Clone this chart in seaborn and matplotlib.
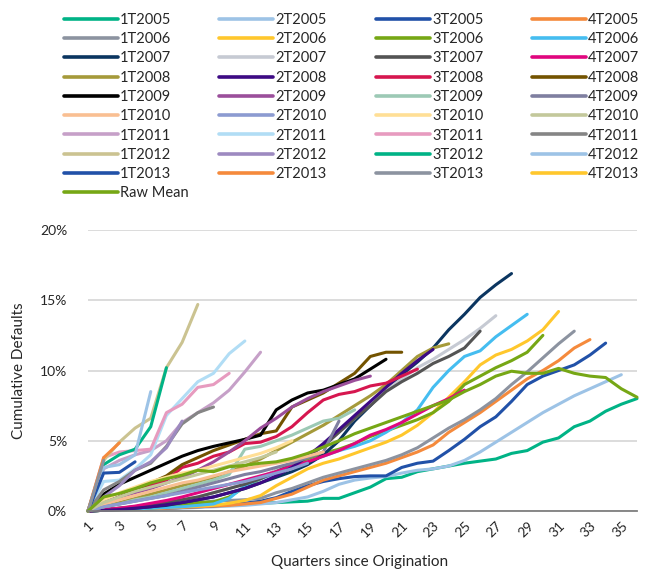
import matplotlib
matplotlib.use("Agg")
import matplotlib.pyplot as plt
import seaborn as sns
import pandas as pd
from matplotlib.ticker import FuncFormatter

# ---- data (cumulative defaults, % of original balance) ----
s_1T2005 = [0, 0.05, 0.1, 0.15, 0.2, 0.25, 0.3, 0.35, 0.4, 0.45, 0.5, 0.55, 0.6, 0.65, 0.7, 0.9, 0.9, 1.3,
            1.7, 2.3, 2.4, 2.8, 3.0, 3.2, 3.4, 3.55, 3.7, 4.1, 4.3, 4.9, 5.2, 6.0, 6.4, 7.1, 7.6, 8.0]
s_2T2005 = [0, 0.05, 0.05, 0.1, 0.1, 0.15, 0.2, 0.25, 0.3, 0.35, 0.4, 0.5, 0.6, 0.8, 1.0, 1.4, 1.9, 2.2,
            2.35, 2.45, 2.7, 2.9, 3.0, 3.2, 3.6, 4.2, 4.9, 5.6, 6.3, 7.0, 7.6, 8.2, 8.7, 9.2, 9.7]
s_3T2005 = [0, 0.05, 0.1, 0.15, 0.15, 0.2, 0.25, 0.3, 0.35, 0.45, 0.55, 0.7, 0.95, 1.4, 1.8, 2.1, 2.3, 2.45,
            2.5, 2.5, 3.1, 3.4, 3.55, 4.3, 5.1, 6.0, 6.7, 7.8, 9.0, 9.6, 10.0, 10.4, 11.1, 11.95]
s_4T2005 = [0, 0.05, 0.1, 0.1, 0.15, 0.2, 0.25, 0.3, 0.35, 0.4, 0.5, 0.6, 0.9, 1.2, 1.7, 2.2, 2.5, 2.8,
            3.1, 3.4, 3.8, 4.2, 4.7, 5.6, 6.3, 7.0, 7.8, 8.6, 9.4, 10.0, 10.7, 11.6, 12.2]
s_1T2006 = [0, 0.1, 0.2, 0.3, 0.35, 0.4, 0.5, 0.6, 0.7, 0.75, 0.8, 0.9, 1.3, 1.6, 2.0, 2.4, 2.7, 3.0,
            3.3, 3.6, 4.0, 4.5, 5.2, 5.9, 6.5, 7.2, 8.0, 9.0, 9.9, 10.9, 11.9, 12.8]
s_2T2006 = [0, 0.05, 0.1, 0.15, 0.2, 0.25, 0.3, 0.35, 0.4, 0.55, 0.75, 1.1, 1.8, 2.4, 3.0, 3.4, 3.7, 4.1,
            4.5, 4.9, 5.4, 6.1, 7.0, 8.1, 9.2, 10.4, 11.1, 11.5, 12.1, 12.9, 14.2]
s_3T2006 = [0, 0.05, 0.1, 0.15, 0.2, 0.3, 0.4, 0.6, 0.65, 1.0, 1.7, 2.3, 2.9, 3.3, 3.7, 4.1, 4.4, 4.8,
            5.3, 5.7, 6.1, 6.5, 7.0, 7.8, 9.0, 9.6, 10.2, 10.7, 11.3, 12.5]
s_4T2006 = [0, 0.05, 0.1, 0.15, 0.2, 0.25, 0.3, 0.4, 0.5, 0.9, 1.8, 2.3, 2.7, 3.1, 3.5, 3.9, 4.3, 4.6,
            5.0, 5.6, 6.3, 7.2, 8.8, 10.0, 11.0, 11.4, 12.4, 13.2, 14.0]
s_1T2007 = [0, 0.05, 0.1, 0.2, 0.3, 0.4, 0.6, 0.8, 1.0, 1.3, 1.6, 2.0, 2.4, 2.8, 3.3, 4.0, 5.0, 6.4,
            7.5, 8.7, 9.7, 10.6, 11.6, 12.9, 14.0, 15.2, 16.1, 16.9]
s_2T2007 = [0, 0.1, 0.2, 0.3, 0.45, 0.6, 0.8, 1.0, 1.3, 1.6, 2.0, 2.4, 2.9, 3.4, 4.0, 4.7, 5.6, 6.6,
            7.6, 8.6, 9.4, 10.2, 10.8, 11.5, 12.2, 13.0, 13.9]
s_3T2007 = [0, 0.1, 0.2, 0.3, 0.45, 0.6, 0.8, 1.0, 1.3, 1.6, 1.9, 2.3, 2.8, 3.3, 3.9, 4.6, 5.6, 6.6,
            7.5, 8.5, 9.2, 9.8, 10.5, 11.0, 11.6, 12.8]
s_4T2007 = [0, 0.1, 0.2, 0.35, 0.55, 0.75, 1.0, 1.3, 1.6, 1.9, 2.2, 2.5, 2.8, 3.2, 3.5, 3.9, 4.3, 4.8,
            5.4, 5.8, 6.3, 6.9, 7.5, 8.0, 8.6]
s_1T2008 = [0, 0.3, 0.6, 0.9, 1.2, 1.5, 1.8, 2.1, 2.4, 2.8, 3.2, 3.7, 4.3, 4.9, 5.5, 6.1, 6.8, 7.5,
            8.2, 9.0, 10.0, 11.0, 11.6, 11.9]
s_2T2008 = [0, 0.05, 0.1, 0.2, 0.3, 0.45, 0.6, 0.8, 1.0, 1.3, 1.6, 2.0, 2.5, 3.1, 3.9, 4.8, 5.8, 6.8,
            7.8, 8.8, 9.8, 10.7, 11.5]
s_3T2008 = [0, 0.5, 1.0, 1.4, 1.8, 2.2, 3.1, 3.4, 3.9, 4.2, 4.8, 4.9, 5.3, 6.0, 7.0, 7.9, 8.3, 8.5,
            8.9, 9.1, 9.6, 10.1]
s_4T2008 = [0, 0.6, 1.0, 1.5, 2.0, 2.5, 3.3, 3.8, 4.3, 4.7, 5.1, 5.5, 5.7, 7.4, 7.9, 8.4, 9.1, 9.8,
            11.0, 11.3, 11.3]
s_1T2009 = [0, 1.2, 1.9, 2.4, 2.9, 3.4, 3.9, 4.3, 4.6, 4.85, 5.1, 5.4, 7.2, 7.9, 8.4, 8.6, 9.0, 9.4,
            10.1, 10.8]
s_2T2009 = [0, 0.6, 1.0, 1.3, 1.6, 2.0, 2.4, 2.9, 3.5, 4.2, 5.0, 5.9, 6.6, 7.4, 8.0, 8.5, 8.9, 9.3, 9.6]
s_3T2009 = [0, 0.3, 0.5, 0.8, 1.0, 1.3, 1.6, 1.9, 2.2, 2.6, 4.4, 4.6, 5.0, 5.4, 5.9, 6.4, 6.6, 7.2]
s_4T2009 = [0, 0.3, 0.5, 0.7, 0.9, 1.1, 1.4, 1.7, 2.0, 2.3, 2.6, 2.8, 3.1, 3.4, 3.8, 4.2, 6.4]
s_1T2010 = [0, 0.5, 0.8, 1.1, 1.4, 1.7, 2.0, 2.2, 2.5, 2.8, 3.0, 3.2, 3.4, 3.6, 3.9, 4.2]
s_2T2010 = [0, 0.3, 0.5, 0.7, 0.9, 1.1, 1.3, 1.5, 1.7, 1.9, 2.1, 2.4, 2.7, 3.0, 3.4]
s_3T2010 = [0, 0.8, 1.3, 1.7, 2.1, 2.4, 2.7, 2.9, 3.2, 3.5, 3.8, 4.1, 4.5, 5.0]
s_4T2010 = [0, 0.6, 1.0, 1.4, 1.7, 2.0, 2.3, 2.6, 2.9, 3.2, 3.5, 3.8, 4.2]
s_1T2011 = [0, 3.0, 3.6, 4.0, 4.3, 5.0, 6.3, 7.0, 7.7, 8.6, 9.9, 11.3]
s_2T2011 = [0, 2.1, 2.2, 3.0, 4.0, 6.8, 8.0, 9.2, 9.8, 11.2, 12.1]
s_3T2011 = [0, 3.8, 4.2, 4.3, 4.4, 7.0, 7.6, 8.8, 9.0, 9.8]
s_4T2011 = [0, 1.5, 2.1, 2.9, 3.4, 4.6, 6.2, 7.0, 7.4]
s_1T2012 = [0, 3.6, 4.9, 5.9, 6.6, 10.2, 12.0, 14.7]
s_2T2012 = [0, 1.0, 1.8, 2.9, 3.5, 4.5, 6.4]
s_3T2012 = [0, 3.3, 4.0, 4.4, 6.0, 10.2]
s_4T2012 = [0, 3.1, 3.3, 4.0, 8.5]
s_1T2013 = [0, 2.7, 2.75, 3.5]
s_2T2013 = [0, 3.8, 4.85]
s_3T2013 = [0, 3.6]
s_4T2013 = [0]
raw_mean = [0, 1.0, 1.25, 1.6, 2.0, 2.3, 2.55, 2.9, 2.8, 3.15, 3.25, 3.4, 3.5, 3.75, 4.1, 4.55, 5.0, 5.5,
            5.9, 6.3, 6.7, 7.1, 7.5, 7.9, 8.5, 9.0, 9.6, 9.95, 9.8, 9.8, 10.15, 9.8, 9.6, 9.5, 8.7, 8.1]

labels = ["1T2005", "2T2005", "3T2005", "4T2005", "1T2006", "2T2006", "3T2006", "4T2006",
          "1T2007", "2T2007", "3T2007", "4T2007", "1T2008", "2T2008", "3T2008", "4T2008",
          "1T2009", "2T2009", "3T2009", "4T2009", "1T2010", "2T2010", "3T2010", "4T2010",
          "1T2011", "2T2011", "3T2011", "4T2011", "1T2012", "2T2012", "3T2012", "4T2012",
          "1T2013", "2T2013", "3T2013", "4T2013", "Raw Mean"]
series_values = [s_1T2005, s_2T2005, s_3T2005, s_4T2005, s_1T2006, s_2T2006, s_3T2006, s_4T2006,
                 s_1T2007, s_2T2007, s_3T2007, s_4T2007, s_1T2008, s_2T2008, s_3T2008, s_4T2008,
                 s_1T2009, s_2T2009, s_3T2009, s_4T2009, s_1T2010, s_2T2010, s_3T2010, s_4T2010,
                 s_1T2011, s_2T2011, s_3T2011, s_4T2011, s_1T2012, s_2T2012, s_3T2012, s_4T2012,
                 s_1T2013, s_2T2013, s_3T2013, s_4T2013, raw_mean]
colors = ["#00B386", "#9DC3E6", "#2151A8", "#F58A3C", "#8C93A0", "#FFC72C", "#76A715", "#45BDF0",
          "#0B3560", "#C6CAD3", "#545454", "#E0067E", "#A59A3A", "#3D0A84", "#D6164F", "#735300",
          "#000000", "#9B4F9B", "#9CC9B5", "#7F7FA0", "#F9BF92", "#8C9BD1", "#FFDF96", "#C3C89B",
          "#C6A0C8", "#B1DDF5", "#E79BBF", "#858585", "#CBC391", "#9D8AC0", "#00B386", "#9DC3E6",
          "#2151A8", "#F58A3C", "#8C93A0", "#FFC72C", "#76A715"]

rows = []
for lab, vals in zip(labels, series_values):
    for q, v in enumerate(vals, start=1):
        rows.append((lab, q, v))
df = pd.DataFrame(rows, columns=["cohort", "quarter", "defaults"])

sns.set_theme(style="white")
plt.rcParams["font.family"] = ["Lato", "DejaVu Sans"]
TXT = "#262626"

W, H = 645, 572
fig = plt.figure(figsize=(W / 100, H / 100), dpi=100)
L, R, T, B = 88, 637, 230, 511
ax = fig.add_axes([L / W, 1 - B / H, (R - L) / W, (B - T) / H])

sns.lineplot(data=df, x="quarter", y="defaults", hue="cohort", hue_order=labels,
             palette=dict(zip(labels, colors)), estimator=None, sort=False,
             linewidth=2.2, ax=ax, legend=True,
             solid_capstyle="round", solid_joinstyle="round")
for ln in ax.get_lines():
    ln.set_clip_on(False)

leg = ax.get_legend()
handles = list(leg.legend_handles)
leg.remove()
for h in handles:
    h.set_linewidth(2.6)

ax.set_xlim(1, 36)
ax.set_ylim(0, 20)
ax.set_yticks([0, 5, 10, 15, 20])
ax.yaxis.set_major_formatter(FuncFormatter(lambda v, p: f"{v:.0f}%"))
ax.set_xticks(range(1, 37))
ax.set_xticklabels([str(q) if q % 2 == 1 else "" for q in range(1, 37)])
ax.grid(axis="y", color="#D9D9D9", linewidth=1.3)
ax.grid(axis="x", visible=False)
ax.set_axisbelow(True)
for sp in ["left", "right", "top"]:
    ax.spines[sp].set_visible(False)
ax.spines["bottom"].set_color("#7F7F7F")
ax.spines["bottom"].set_linewidth(1.3)
ax.tick_params(axis="x", which="major", length=5, width=1.1, color="#7F7F7F",
               direction="out", labelsize=10, labelcolor=TXT, pad=1)
ax.tick_params(axis="y", length=0, labelsize=10, labelcolor=TXT, pad=15)
for lbl in ax.get_xticklabels():
    lbl.set_rotation(45)
    lbl.set_ha("right")
    lbl.set_va("top")
    lbl.set_rotation_mode("anchor")

ax.set_xlabel("Quarters since Origination", fontsize=11, color=TXT)
ax.set_ylabel("Cumulative Defaults", fontsize=11, color=TXT)
ax.xaxis.set_label_coords(0.495, (B - 562) / (B - T))
ax.xaxis.label.set_va("center")
ax.yaxis.set_label_coords((19 - L) / (R - L), 0.5)
ax.yaxis.label.set_va("center")

# legend: four columns laid out row-wise like the original
col_x = [64, 219, 376, 532]
for c in range(4):
    idx = [i for i in range(36) if i % 4 == c]
    if c == 0:
        idx.append(36)
    fig.legend([handles[i] for i in idx], [labels[i] for i in idx],
               loc="upper left", bbox_to_anchor=(col_x[c] / W, 1 - 13 / H),
               frameon=False, fontsize=10.5, handlelength=3.7, handletextpad=0.15,
               labelspacing=0.36, borderpad=0, borderaxespad=0, labelcolor=TXT)

fig.savefig("out.png", dpi=100)
